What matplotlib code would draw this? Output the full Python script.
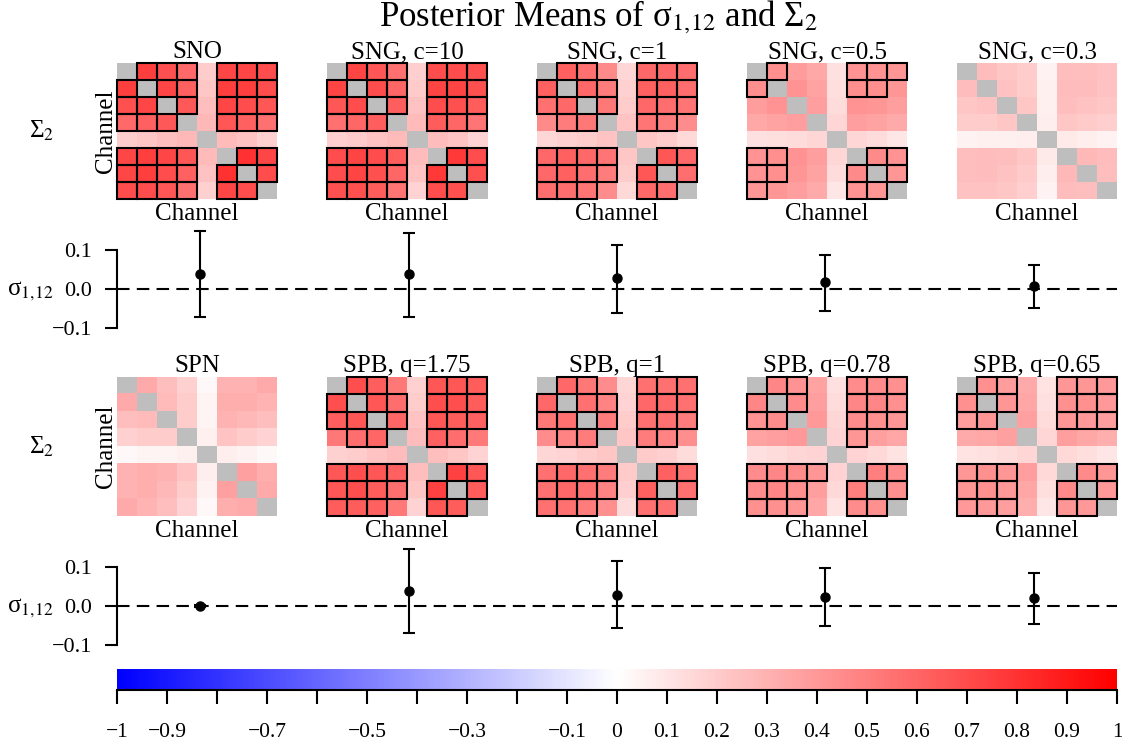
import numpy as np
import matplotlib
matplotlib.use('Agg')
import matplotlib.pyplot as plt
from matplotlib.colors import LinearSegmentedColormap
from matplotlib.patches import Rectangle

plt.rcParams['font.family'] = ['Liberation Serif', 'DejaVu Serif']
plt.rcParams['mathtext.fontset'] = 'stix'

N_CH = 8
titles_top = ['SNO', 'SNG, c=10', 'SNG, c=1', 'SNG, c=0.5', 'SNG, c=0.3']
titles_bot = ['SPN', 'SPB, q=1.75', 'SPB, q=1', 'SPB, q=0.78', 'SPB, q=0.65']

# upper triangle of each posterior mean matrix, row by row: (0,1..7), (1,2..7), ..., (6,7)
sno = [0.75, 0.68, 0.58, 0.20, 0.72, 0.72, 0.70,
       0.72, 0.62, 0.22, 0.75, 0.75, 0.70,
       0.65, 0.25, 0.72, 0.70, 0.66,
       0.28, 0.66, 0.62, 0.56,
       0.27, 0.24, 0.18,
       0.80, 0.72,
       0.70]
sng_10 = [0.73, 0.66, 0.56, 0.19, 0.70, 0.70, 0.68,
          0.70, 0.60, 0.21, 0.73, 0.73, 0.68,
          0.63, 0.24, 0.70, 0.68, 0.64,
          0.27, 0.64, 0.60, 0.54,
          0.26, 0.23, 0.17,
          0.78, 0.70,
          0.68]
sng_1 = [0.62, 0.56, 0.46, 0.16, 0.59, 0.59, 0.57,
         0.59, 0.51, 0.18, 0.62, 0.62, 0.57,
         0.53, 0.20, 0.59, 0.57, 0.54,
         0.23, 0.54, 0.51, 0.45,
         0.22, 0.20, 0.15,
         0.66, 0.59,
         0.57]
sng_05 = [0.44, 0.39, 0.34, 0.12, 0.42, 0.42, 0.41,
          0.42, 0.36, 0.13, 0.44, 0.44, 0.41,
          0.38, 0.14, 0.42, 0.41, 0.38,
          0.16, 0.38, 0.36, 0.33,
          0.16, 0.14, 0.10,
          0.46, 0.42,
          0.41]
sng_03 = [0.26, 0.22, 0.20, 0.05, 0.25, 0.25, 0.24,
          0.24, 0.20, 0.06, 0.26, 0.26, 0.24,
          0.22, 0.06, 0.25, 0.24, 0.22,
          0.07, 0.22, 0.21, 0.19,
          0.08, 0.07, 0.05,
          0.28, 0.26,
          0.25]
spn = [0.33, 0.25, 0.18, 0.03, 0.30, 0.30, 0.33,
       0.27, 0.20, 0.04, 0.32, 0.32, 0.29,
       0.20, 0.04, 0.30, 0.28, 0.25,
       0.06, 0.23, 0.20, 0.17,
       0.07, 0.05, 0.03,
       0.37, 0.32,
       0.33]
spb_175 = [0.69, 0.63, 0.53, 0.18, 0.66, 0.66, 0.64,
           0.66, 0.57, 0.20, 0.69, 0.69, 0.64,
           0.60, 0.23, 0.66, 0.64, 0.61,
           0.26, 0.61, 0.57, 0.52,
           0.25, 0.22, 0.17,
           0.74, 0.66,
           0.64]
spb_1 = [0.59, 0.53, 0.45, 0.16, 0.56, 0.56, 0.55,
         0.56, 0.48, 0.17, 0.59, 0.59, 0.55,
         0.51, 0.20, 0.56, 0.55, 0.51,
         0.22, 0.51, 0.48, 0.44,
         0.21, 0.19, 0.14,
         0.62, 0.56,
         0.55]
spb_078 = [0.47, 0.42, 0.36, 0.12, 0.45, 0.45, 0.43,
           0.45, 0.38, 0.14, 0.47, 0.47, 0.43,
           0.40, 0.16, 0.45, 0.43, 0.41,
           0.17, 0.41, 0.38, 0.35,
           0.17, 0.15, 0.11,
           0.50, 0.45,
           0.43]
spb_065 = [0.43, 0.39, 0.33, 0.11, 0.41, 0.41, 0.40,
           0.41, 0.35, 0.12, 0.43, 0.43, 0.40,
           0.37, 0.14, 0.41, 0.40, 0.38,
           0.16, 0.38, 0.35, 0.32,
           0.15, 0.13, 0.10,
           0.46, 0.41,
           0.40]

# which entries are boxed (same upper-triangle order)
box_full = '1110111' '110111' '10111' '0111' '000' '11' '1'
box_a = '1100111' '110111' '10111' '0110' '000' '11' '1'
box_b = '1000111' '000110' '00000' '0000' '000' '11' '1'
box_c = '1100111' '100111' '00111' '0100' '000' '11' '1'
box_d = '1100111' '100111' '00111' '0000' '000' '11' '1'
box_none = '0' * 28

mats_top = [sno, sng_10, sng_1, sng_05, sng_03]
mats_bot = [spn, spb_175, spb_1, spb_078, spb_065]
boxes_top = [box_full, box_full, box_a, box_b, box_none]
boxes_bot = [box_none, box_a, box_a, box_c, box_d]

# sigma_{1,12} posterior mean and interval
sig_top_mean = [0.039, 0.038, 0.029, 0.019, 0.009]
sig_top_lo = [-0.072, -0.072, -0.061, -0.056, -0.048]
sig_top_hi = [0.150, 0.145, 0.114, 0.088, 0.062]
sig_bot_mean = [0.000, 0.039, 0.028, 0.023, 0.020]
sig_bot_lo = [-0.003, -0.069, -0.057, -0.052, -0.047]
sig_bot_hi = [0.003, 0.147, 0.116, 0.098, 0.085]

cbar_ticks = np.round(np.arange(-1, 1.01, 0.1), 1)
cbar_labels = ['\u22121', '\u22120.9', '', '\u22120.7', '', '\u22120.5', '', '\u22120.3', '',
               '\u22120.1', '0', '0.1', '0.2', '0.3', '0.4', '0.5', '0.6', '0.7', '0.8', '0.9', '1']

cmap = LinearSegmentedColormap.from_list('bwr2', ['#0000ff', '#ffffff', '#ff0000'])
cmap.set_bad('#bebebe')

W, H = 1122, 742
fig = plt.figure(figsize=(W / 100, H / 100), dpi=100)


def px_axes(x0, y0, x1, y1):
    return fig.add_axes([x0 / W, 1 - y1 / H, (x1 - x0) / W, (y1 - y0) / H])


def to_matrix(upper):
    m = np.full((N_CH, N_CH), np.nan)
    iu = np.triu_indices(N_CH, 1)
    m[iu] = upper
    m[(iu[1], iu[0])] = upper
    return m


def draw_heat(ax, upper, boxes, title, first):
    m = to_matrix(upper)
    ax.imshow(m, cmap=cmap, vmin=-1, vmax=1, aspect='auto', interpolation='nearest')
    iu = np.triu_indices(N_CH, 1)
    for k, flag in enumerate(boxes):
        if flag == '1':
            i, j = iu[0][k], iu[1][k]
            for (r, c) in [(i, j), (j, i)]:
                ax.add_patch(Rectangle((c - 0.5, r - 0.5), 1, 1, fill=False,
                                       edgecolor='black', lw=1.5, clip_on=False))
    ax.set_xticks([])
    ax.set_yticks([])
    for s in ax.spines.values():
        s.set_visible(False)
    ax.set_title(title, fontsize=18, pad=0)
    ax.set_xlabel('Channel', fontsize=18, labelpad=3)
    if first:
        ax.set_ylabel('Channel', fontsize=18, labelpad=0)


def draw_sigma(ax, mean, lo, hi):
    x = np.arange(1, len(mean) + 1)
    mean = np.array(mean)
    yerr = [mean - np.array(lo), np.array(hi) - mean]
    ax.axhline(0, color='black', ls=(0, (6, 3.5)), lw=1.5)
    ax.errorbar(x, mean, yerr=yerr, fmt='o', color='black', ms=6.5,
                capsize=4, elinewidth=1.5, capthick=1.5)
    ax.set_xlim(0.6, 5.4)
    ax.set_ylim(-0.131, 0.163)
    ax.set_yticks([-0.1, 0.0, 0.1])
    ax.set_yticklabels(['\u22120.1', '0.0', '0.1'])
    ax.tick_params(axis='y', length=9, width=1.5, labelsize=16, pad=9)
    ax.set_xticks([])
    for side in ['top', 'right', 'bottom']:
        ax.spines[side].set_visible(False)
    ax.spines['left'].set_linewidth(1.5)
    ax.spines['left'].set_bounds(-0.1, 0.1)


for k in range(5):
    x0 = 117 + 210 * k
    ax = px_axes(x0, 63, x0 + 160, 199)
    draw_heat(ax, mats_top[k], boxes_top[k], titles_top[k], k == 0)
    ax = px_axes(x0, 377, x0 + 160, 516)
    draw_heat(ax, mats_bot[k], boxes_bot[k], titles_bot[k], k == 0)

ax1 = px_axes(117, 226, 1117, 340)
draw_sigma(ax1, sig_top_mean, sig_top_lo, sig_top_hi)
ax2 = px_axes(117, 543, 1117, 657)
draw_sigma(ax2, sig_bot_mean, sig_bot_lo, sig_bot_hi)

# colour bar
cax = px_axes(117, 669, 1117, 690)
grad = np.linspace(-1, 1, 512).reshape(1, -1)
cax.imshow(grad, cmap=cmap, vmin=-1, vmax=1, aspect='auto', extent=[-1, 1, 0, 1])
cax.set_xlim(-1, 1)
cax.set_xticks(cbar_ticks)
cax.set_xticklabels(cbar_labels)
cax.set_yticks([])
cax.tick_params(axis='x', length=10, width=1.5, labelsize=15.5, pad=14)
for side in ['top', 'right', 'left']:
    cax.spines[side].set_visible(False)
cax.spines['bottom'].set_linewidth(1.5)

# row labels
sig_lab = '\u03c3$_{1,\\!12}$'
fig.text(42 / W, 1 - 131 / H, '\u03a3$_2$', fontsize=18, ha='center', va='center')
fig.text(42 / W, 1 - 447 / H, '\u03a3$_2$', fontsize=18, ha='center', va='center')
fig.text(30 / W, 1 - 291 / H, sig_lab, fontsize=18, ha='center', va='center')
fig.text(30 / W, 1 - 608 / H, sig_lab, fontsize=18, ha='center', va='center')

fig.suptitle('Posterior Means of \u03c3$_{1,\\!12}$ and \u03a3$_2$', fontsize=25,
             x=598 / W, y=1 - 17 / H, va='center')

fig.savefig('out.png', dpi=100)
